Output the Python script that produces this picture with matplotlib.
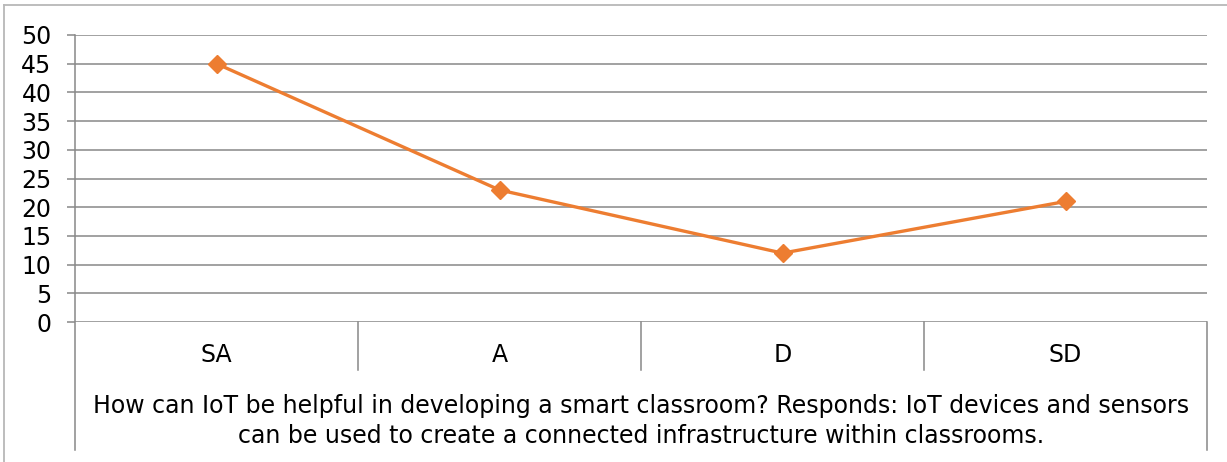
import matplotlib
matplotlib.use("Agg")
import matplotlib.pyplot as plt
from matplotlib.lines import Line2D
from matplotlib.transforms import blended_transform_factory

plt.rcParams['font.family'] = ['DejaVu Sans']

categories = ["SA", "A", "D", "SD"]
values = [45, 23, 12, 21]
y_ticks = [0, 5, 10, 15, 20, 25, 30, 35, 40, 45, 50]
axis_title = ("How can IoT be helpful in developing a smart classroom? Responds: IoT devices and sensors\n"
              "can be used to create a connected infrastructure within classrooms.")

W, H = 1227, 462
fig = plt.figure(figsize=(W / 100, H / 100), dpi=100)
fig.patch.set_facecolor("white")

# plot area in pixel coordinates
left, right, top, bottom = 75, 1207, 35, 322
ax = fig.add_axes([left / W, 1 - bottom / H, (right - left) / W, (bottom - top) / H])

line_col = "#ED7D31"
grid_col = "#888888"
fs = 17
x = list(range(len(categories)))
ax.plot(x, values, color=line_col, lw=2.4, marker="D", ms=9,
        mec=line_col, mfc=line_col, zorder=3, clip_on=False)

ax.set_xlim(-0.5, len(categories) - 0.5)
ax.set_ylim(0, 50)
ax.set_yticks(y_ticks)
ax.set_yticklabels([str(t) for t in y_ticks])
ax.yaxis.grid(True, color=grid_col, lw=1.1)
ax.set_axisbelow(True)
for s in ["top", "right", "bottom", "left"]:
    ax.spines[s].set_visible(False)
ax.tick_params(axis="y", length=6, width=1.1, color=grid_col, pad=11,
               labelsize=fs, labelcolor="black")
ax.tick_params(axis="x", length=0, labelbottom=False)

# category table below the plot
px = 1 / (bottom - top)  # one pixel in axes-fraction units
trans = blended_transform_factory(ax.transData, ax.transAxes)
sep_bottom = -(370 - bottom) * px
outer_bottom = -(450 - bottom) * px
for xs in [0.5, 1.5, 2.5]:
    ax.add_line(Line2D([xs, xs], [0, sep_bottom], transform=trans,
                       color=grid_col, lw=1.1, clip_on=False))
ax.add_line(Line2D([-0.5, -0.5], [1, outer_bottom], transform=trans,
                   color=grid_col, lw=1.1, clip_on=False))
ax.add_line(Line2D([3.5, 3.5], [0, outer_bottom], transform=trans,
                   color=grid_col, lw=1.1, clip_on=False))
for xi, c in zip(x, categories):
    ax.text(xi, -(355 - bottom) * px, c, transform=trans, ha="center",
            va="center", fontsize=fs)
ax.text(1.5, -(421 - bottom) * px, axis_title, transform=trans, ha="center",
        va="center", fontsize=fs, linespacing=1.3)

# chart-area border
border_col = "#b8b8b8"
fig.add_artist(Line2D([4 / W, 1], [1 - 5 / H] * 2, transform=fig.transFigure,
                      color=border_col, lw=1.3))
fig.add_artist(Line2D([4 / W] * 2, [0, 1 - 5 / H], transform=fig.transFigure,
                      color=border_col, lw=1.3))

fig.savefig("out.png", dpi=100, facecolor="white")
